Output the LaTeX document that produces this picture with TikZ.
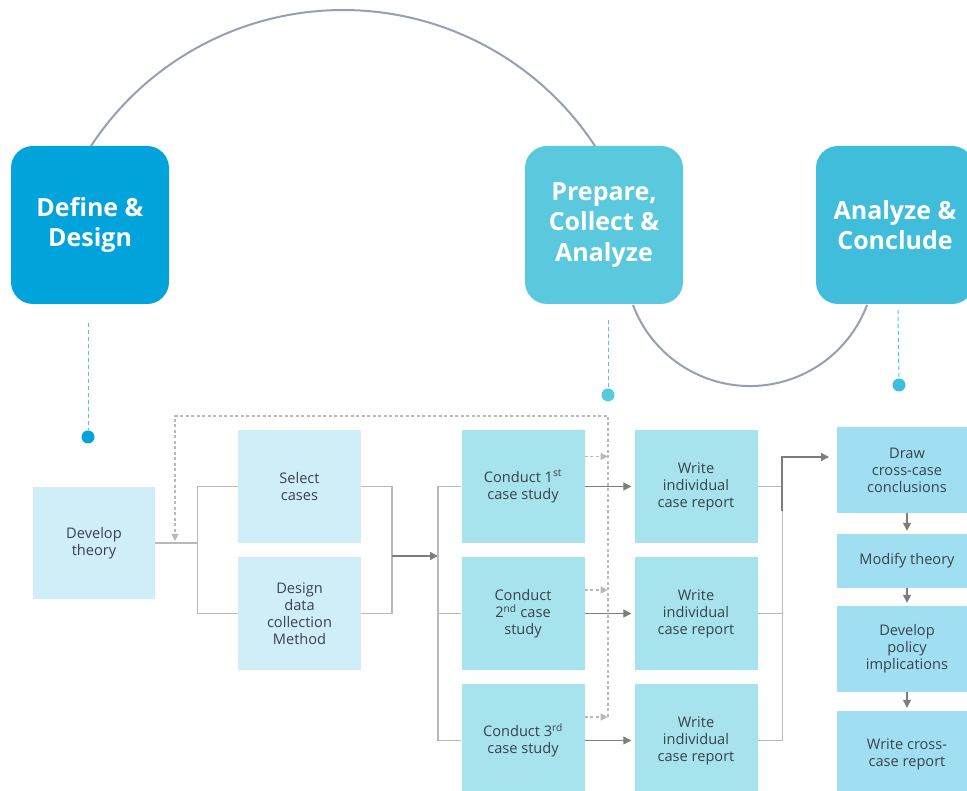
\documentclass[tikz,border=0pt]{standalone}
\usepackage{fontspec}
\setmainfont{Open Sans}
\usetikzlibrary{arrows.meta}

\definecolor{hdrA}{RGB}{0,163,218}
\definecolor{hdrB}{RGB}{91,201,221}
\definecolor{hdrC}{RGB}{64,189,219}
\definecolor{boxA}{RGB}{207,238,247}
\definecolor{boxB}{RGB}{166,227,236}
\definecolor{boxC}{RGB}{160,223,242}
\definecolor{txt}{RGB}{58,66,76}
\definecolor{wire}{RGB}{185,185,185}
\definecolor{wiredark}{RGB}{125,125,125}
\definecolor{loopline}{RGB}{150,159,180}
\definecolor{stemcol}{RGB}{80,196,226}

\begin{document}
\begin{tikzpicture}[x=1pt, y=1pt,
	phase/.style={rounded corners=22pt, minimum width=158pt, minimum height=158pt, inner sep=0pt, align=center, text=white, font=\fontsize{25}{30.5}\selectfont\bfseries},
	task/.style={minimum width=123pt, minimum height=113pt, inner sep=0pt, align=center, text=txt, font=\fontsize{14.6}{17}\selectfont},
	dot/.style={circle, minimum size=13pt, inner sep=0pt},
	stem/.style={stemcol, line width=1pt, dash pattern=on 4pt off 3pt},
	link/.style={wire, line width=1.3pt},
	arr/.style={wiredark, line width=1.3pt, -{Triangle[length=8pt,width=8pt]}, shorten >=3pt},
	fb/.style={wire, line width=1.1pt, dash pattern=on 3pt off 2.5pt}]
	\useasboundingbox (0,0) rectangle (967,791);
	\fill[white] (0,0) rectangle (967,791);

	% loop joining the three phases
	\draw[loopline, line width=2pt] (91,645) arc[start angle=146.7, end angle=33.3, radius=301.5];
	\draw[loopline, line width=2pt] (633,486) arc[start angle=200.6, end angle=339.4, radius=125];

	% phases
	\node[phase, fill=hdrA] (define) at (90,566) {Define \&\\Design};
	\node[phase, fill=hdrB] (prepare) at (604,566) {Prepare,\\Collect \&\\Analyze};
	\node[phase, fill=hdrC] (conclude) at (895,566) {Analyze \&\\Conclude};

	\node[dot, fill=hdrA] (dot1) at (88,354) {};
	\node[dot, fill=hdrB] (dot2) at (608,396) {};
	\node[dot, fill=hdrC] (dot3) at (899,406) {};
	\draw[stem] (88,468) -- (dot1);
	\draw[stem] (608,471) -- (dot2);
	\draw[stem] (898,481) -- (dot3);

	% define & design
	\node[task, fill=boxA, minimum width=122pt, minimum height=112pt] (theory) at (94,248) {Develop\\theory};
	\node[task, fill=boxA] (select) at (299.5,304.5) {Select\\cases};
	\node[task, fill=boxA] (design) at (299.5,177.5) {Design\\data\\collection\\Method};

	% prepare, collect & analyze
	\node[task, fill=boxB] (conduct1) at (523,304.5) {Conduct 1\textsuperscript{st}\\case study};
	\node[task, fill=boxB] (conduct2) at (523,177.5) {Conduct\\2\textsuperscript{nd} case\\study};
	\node[task, fill=boxB] (conduct3) at (523,50.5) {Conduct 3\textsuperscript{rd}\\case study};
	\node[task, fill=boxB] (write1) at (696,304.5) {Write\\individual\\case report};
	\node[task, fill=boxB] (write2) at (696,177.5) {Write\\individual\\case report};
	\node[task, fill=boxB] (write3) at (696,50.5) {Write\\individual\\case report};

	% analyze & conclude
	\node[task, fill=boxC, minimum width=140pt, minimum height=86pt] (crossdraw) at (907,321) {Draw\\cross-case\\conclusions};
	\node[task, fill=boxC, minimum width=140pt, minimum height=54pt] (modify) at (907,230) {Modify theory};
	\node[task, fill=boxC, minimum width=140pt, minimum height=86pt] (policy) at (907,142) {Develop\\policy\\implications};
	\node[task, fill=boxC, minimum width=140pt, minimum height=86pt] (crossreport) at (907,37) {Write cross-\\case report};

	\coordinate (merge1) at (392,235);
	\coordinate (fork2) at (438,235);
	\coordinate (merge2) at (782,280);
	\coordinate (crossin) at (829,334);
	\coordinate (fbbot) at (608,74);
	\coordinate (fbtop) at (608,375);
	\coordinate (fbend) at (175,250);

	% connectors
	\draw[link] (theory.east) -- ++(42,0) |- (select.west);
	\draw[link] (theory.east) -- ++(42,0) |- (design.west);
	\draw[link] (select.east) -| (merge1);
	\draw[link] (design.east) -| (merge1);
	\draw[arr, shorten >=0pt] (merge1) -- (fork2);
	\draw[link] (conduct1.west) -| (fork2);
	\draw[link] (conduct3.west) -| (fork2);
	\draw[link] (conduct2.west) -- (conduct2.west -| fork2);
	\foreach \i in {1,2,3}
		\draw[arr] (conduct\i.east) -- (write\i.west);
	\draw[link] (write1.east) -- ++(25,0) |- (write3.east);
	\draw[link] (write2.east) -- ++(25,0);
	\draw[arr, shorten >=0pt] (merge2) |- (crossin);
	\draw[arr] (crossdraw) -- (modify);
	\draw[arr] (modify) -- (policy);
	\draw[arr] (policy) -- (crossreport);

	% feedback from the case studies
	\draw[fb, -{Triangle[length=7pt,width=7pt]}] ([yshift=30pt]conduct1.east) -- ++(23,0);
	\draw[fb, -{Triangle[length=7pt,width=7pt]}] ([yshift=23.5pt]conduct2.east) -- ++(23,0);
	\draw[fb, -{Triangle[length=7pt,width=7pt]}] ([yshift=23.5pt]conduct3.east) -- ++(23,0);
	\draw[fb, -{Triangle[length=7pt,width=7pt]}] (fbbot) -- (fbtop) -| (fbend);
\end{tikzpicture}
\end{document}
